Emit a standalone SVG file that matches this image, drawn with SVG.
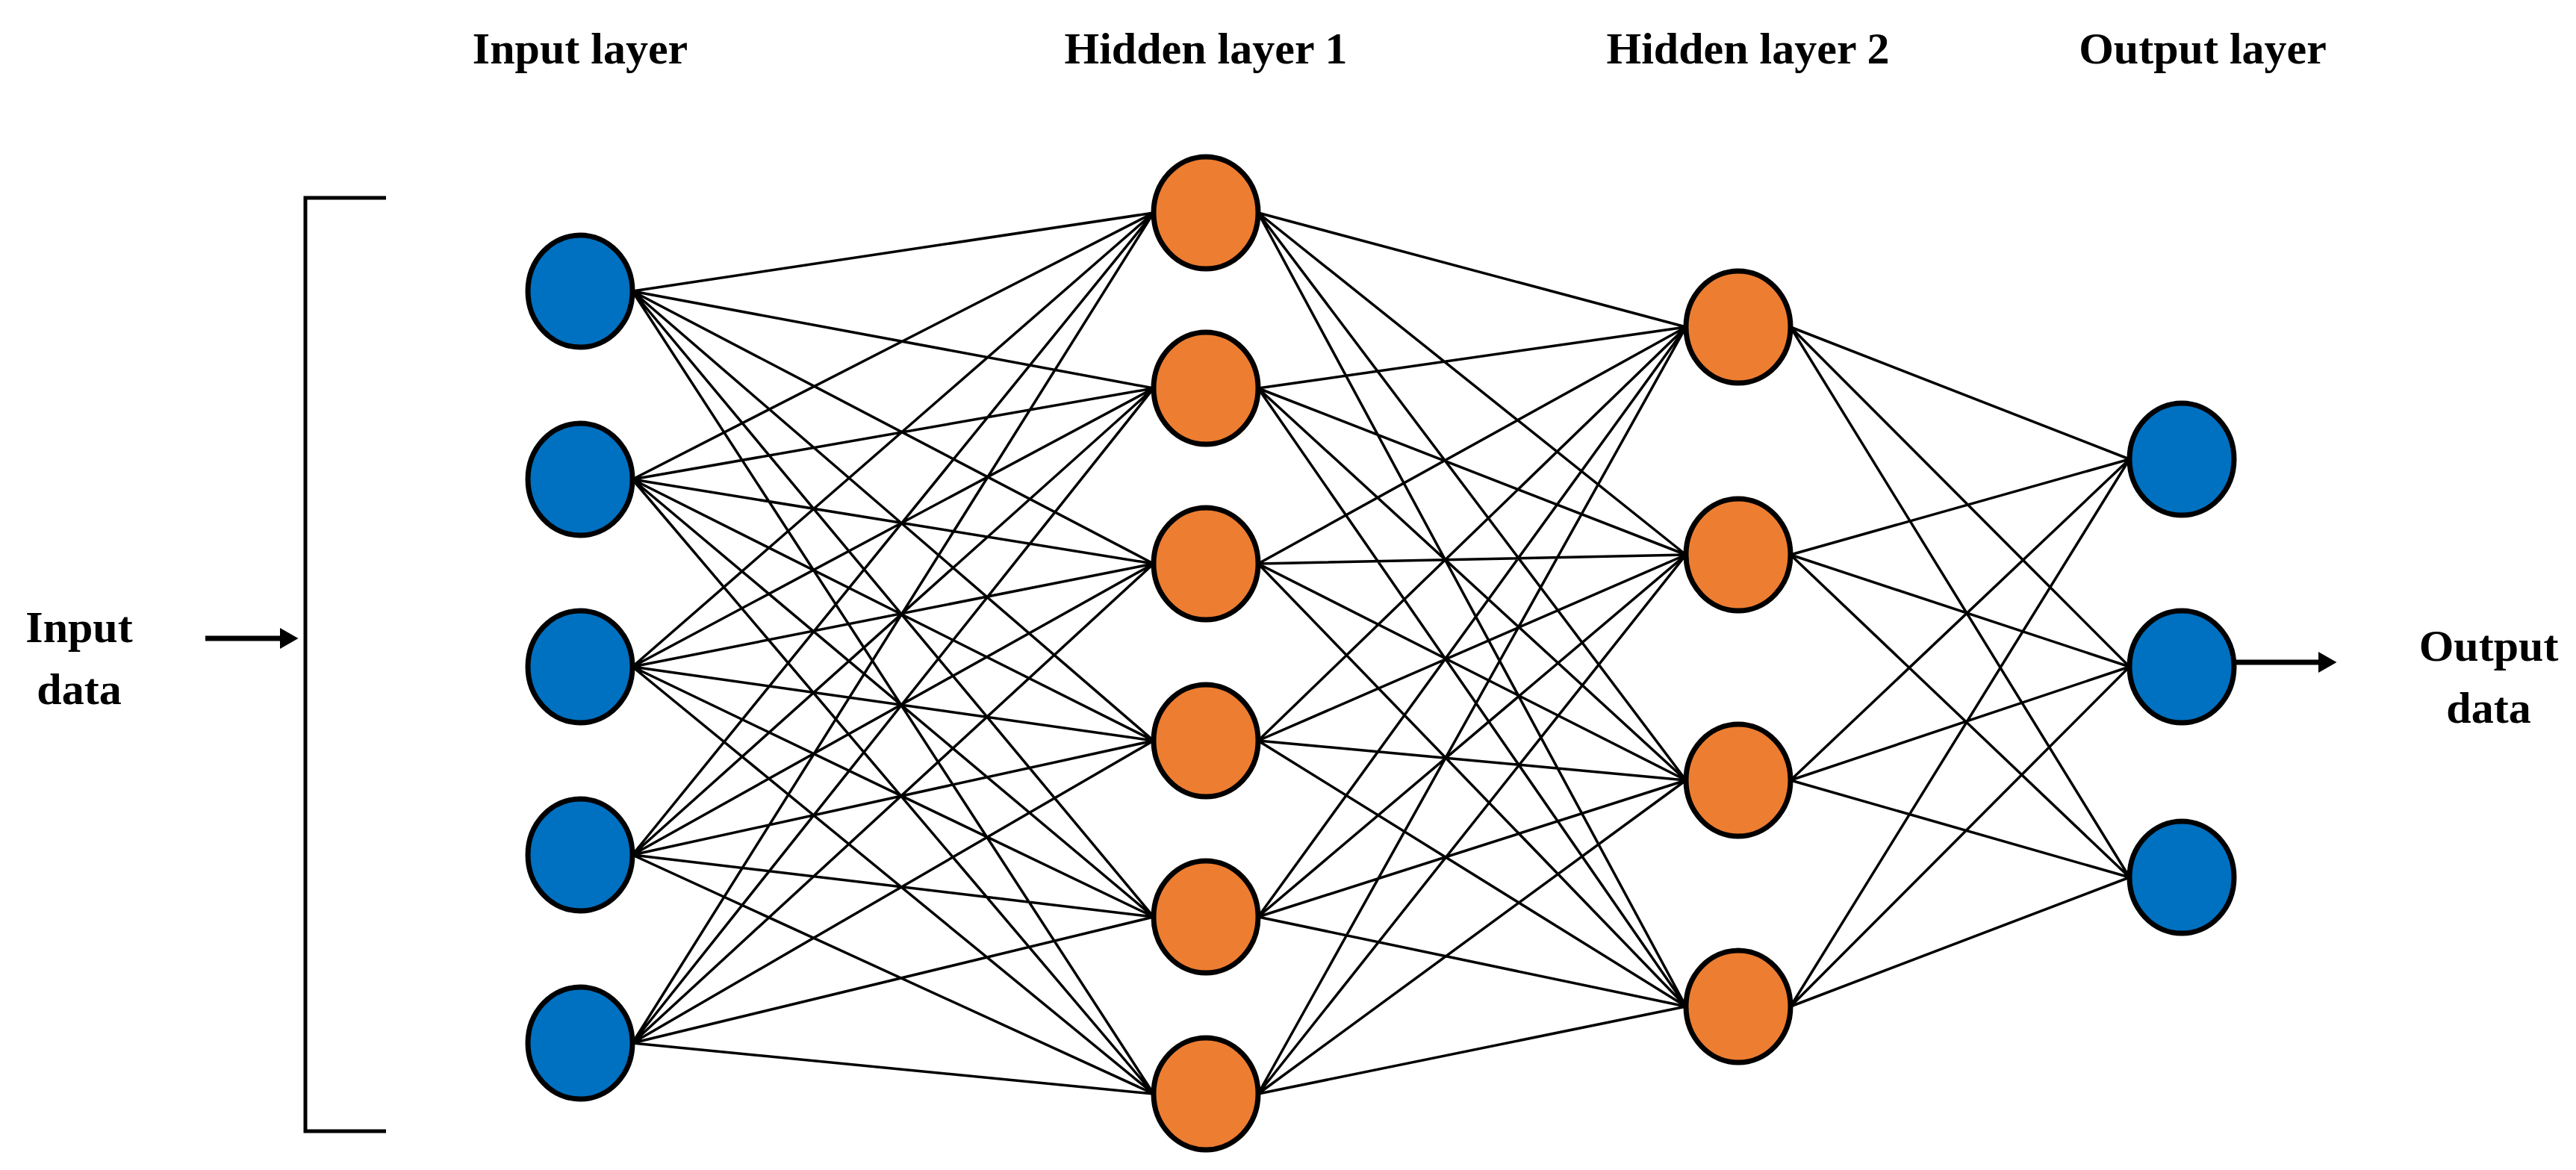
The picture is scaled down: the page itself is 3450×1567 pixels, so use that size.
<svg xmlns="http://www.w3.org/2000/svg" width="3450" height="1567" viewBox="0 0 3450 1567">
<style>
.b{fill:#0070c0;stroke:#000;stroke-width:7}
.o{fill:#ed7d31;stroke:#000;stroke-width:7}
.t{font-family:"Liberation Serif",serif;font-weight:bold;font-size:60px;text-anchor:middle;fill:#000}
#edges line{stroke:#000;stroke-width:3.5}
</style>
<defs><marker id="ar" markerWidth="4" markerHeight="4" refX="0" refY="2" orient="auto" markerUnits="strokeWidth"><path d="M0,0L3.5,2L0,4z" fill="#000"/></marker></defs>
<rect width="3450" height="1567" fill="#fff"/>
<g id="edges">
<!-- input to hidden1 -->
<g id="e1"></g>
</g>
<g id="edges2" stroke="#000" stroke-width="3.5">
<path d="M847,390L1545,285M847,390L1545,520M847,390L1545,755M847,390L1545,992M847,390L1545,1228M847,390L1545,1465
M847,642L1545,285M847,642L1545,520M847,642L1545,755M847,642L1545,992M847,642L1545,1228M847,642L1545,1465
M847,893L1545,285M847,893L1545,520M847,893L1545,755M847,893L1545,992M847,893L1545,1228M847,893L1545,1465
M847,1145L1545,285M847,1145L1545,520M847,1145L1545,755M847,1145L1545,992M847,1145L1545,1228M847,1145L1545,1465
M847,1397L1545,285M847,1397L1545,520M847,1397L1545,755M847,1397L1545,992M847,1397L1545,1228M847,1397L1545,1465
M1685,285L2258,438M1685,285L2258,743M1685,285L2258,1045M1685,285L2258,1348
M1685,520L2258,438M1685,520L2258,743M1685,520L2258,1045M1685,520L2258,1348
M1685,755L2258,438M1685,755L2258,743M1685,755L2258,1045M1685,755L2258,1348
M1685,992L2258,438M1685,992L2258,743M1685,992L2258,1045M1685,992L2258,1348
M1685,1228L2258,438M1685,1228L2258,743M1685,1228L2258,1045M1685,1228L2258,1348
M1685,1465L2258,438M1685,1465L2258,743M1685,1465L2258,1045M1685,1465L2258,1348
M2398,438L2852,615M2398,438L2852,893M2398,438L2852,1175
M2398,743L2852,615M2398,743L2852,893M2398,743L2852,1175
M2398,1045L2852,615M2398,1045L2852,893M2398,1045L2852,1175
M2398,1348L2852,615M2398,1348L2852,893M2398,1348L2852,1175" fill="none"/>
<path d="M517,265H409V1515H517" fill="none" stroke-width="5"/>
<line x1="275" y1="855" x2="375" y2="855" stroke-width="7" marker-end="url(#ar)"/>
<line x1="2992" y1="887" x2="3105" y2="887" stroke-width="7" marker-end="url(#ar)"/>
</g>
<g id="input">
<ellipse id="i1" class="b" cx="777" cy="390" rx="70" ry="75"/>
<ellipse id="i2" class="b" cx="777" cy="642" rx="70" ry="75"/>
<ellipse id="i3" class="b" cx="777" cy="893" rx="70" ry="75"/>
<ellipse id="i4" class="b" cx="777" cy="1145" rx="70" ry="75"/>
<ellipse id="i5" class="b" cx="777" cy="1397" rx="70" ry="75"/>
</g>
<g id="hidden1">
<ellipse id="h1" class="o" cx="1615" cy="285" rx="70" ry="75"/>
<ellipse id="h2" class="o" cx="1615" cy="520" rx="70" ry="75"/>
<ellipse id="h3" class="o" cx="1615" cy="755" rx="70" ry="75"/>
<ellipse id="h4" class="o" cx="1615" cy="992" rx="70" ry="75"/>
<ellipse id="h5" class="o" cx="1615" cy="1228" rx="70" ry="75"/>
<ellipse id="h6" class="o" cx="1615" cy="1465" rx="70" ry="75"/>
</g>
<g id="hidden2">
<ellipse id="g1" class="o" cx="2328" cy="438" rx="70" ry="75"/>
<ellipse id="g2" class="o" cx="2328" cy="743" rx="70" ry="75"/>
<ellipse id="g3" class="o" cx="2328" cy="1045" rx="70" ry="75"/>
<ellipse id="g4" class="o" cx="2328" cy="1348" rx="70" ry="75"/>
</g>
<g id="output">
<ellipse id="o1" class="b" cx="2922" cy="615" rx="70" ry="75"/>
<ellipse id="o2" class="b" cx="2922" cy="893" rx="70" ry="75"/>
<ellipse id="o3" class="b" cx="2922" cy="1175" rx="70" ry="75"/>
</g>
<g id="labels">
<text class="t" x="777" y="85">Input layer</text>
<text class="t" x="1615" y="85">Hidden layer 1</text>
<text class="t" x="2341" y="85">Hidden layer 2</text>
<text class="t" x="2950" y="85">Output layer</text>
<text class="t" x="106" y="860">Input</text>
<text class="t" x="106" y="943">data</text>
<text class="t" x="3333" y="885">Output</text>
<text class="t" x="3333" y="968">data</text>
</g>
</svg>
